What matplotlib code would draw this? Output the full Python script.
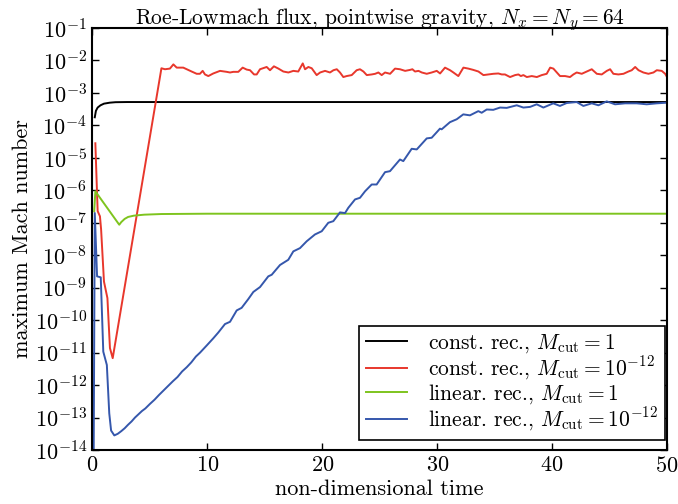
import numpy as np
import matplotlib
matplotlib.use("Agg")
import matplotlib.pyplot as plt
from matplotlib.ticker import LogFormatterMathtext, NullLocator

# data (time, log10 of max Mach number)
t_const_1 = [0.2, 0.3, 0.45, 0.7, 1.0, 1.5, 2.0, 3.0, 50.0]
m_const_1 = [-3.75, -3.55, -3.45, -3.38, -3.33, -3.30, -3.285, -3.28, -3.28]

t_const_12 = [0.25, 0.45, 0.65, 0.75, 1.0, 1.3, 1.52, 1.76, 6.0, 6.31, 6.74, 7.04,
              7.33, 7.9, 8.2, 8.63, 9.07, 9.35, 9.59, 9.79, 10.08, 10.51, 11.1, 11.68,
              11.97, 12.26, 12.69, 13.07, 13.42, 13.71, 14.06, 14.29, 14.58, 15.16,
              15.45, 15.79, 16.18, 16.61, 17.05, 17.48, 17.91, 18.3, 18.5, 18.79,
              19.08, 19.51, 19.81, 20.24, 20.67, 20.97, 21.26, 21.54, 21.83, 22.12,
              22.56, 22.99, 23.28, 23.58, 23.87, 24.3, 24.6, 24.88, 25.17, 25.46,
              25.9, 26.33, 26.76, 27.21, 27.64, 27.84, 28.07, 28.37, 28.66, 29.09,
              29.52, 29.96, 30.25, 30.68, 31.12, 31.41, 31.84, 32.28, 32.71, 33.14,
              33.59, 34.02, 34.45, 34.89, 35.32, 35.62, 35.9, 36.34, 36.78, 37.07,
              37.28, 37.5, 37.8, 38.23, 38.67, 39.1, 39.53, 39.83, 40.11, 40.41,
              40.69, 41.13, 41.56, 41.85, 42.14, 42.58, 43.02, 43.45, 43.89, 44.32,
              44.76, 45.05, 45.33, 45.77, 46.21, 46.64, 46.93, 47.23, 47.52, 47.94,
              48.38, 48.82, 49.11, 49.54, 49.84, 50.0]
m_const_12 = [-4.55, -6.64, -6.8, -7.2, -8.81, -9.32, -10.86, -11.17, -2.24, -2.27, -2.25, -2.12,
              -2.22, -2.22, -2.27, -2.34, -2.41, -2.41, -2.32, -2.43, -2.48, -2.40, -2.32, -2.35,
              -2.37, -2.35, -2.35, -2.22, -2.28, -2.30, -2.43, -2.43, -2.27, -2.20,
              -2.30, -2.18, -2.25, -2.34, -2.37, -2.32, -2.34, -2.09, -2.27, -2.20,
              -2.24, -2.45, -2.37, -2.32, -2.37, -2.30, -2.27, -2.37, -2.51, -2.48,
              -2.45, -2.30, -2.27, -2.34, -2.45, -2.43, -2.41, -2.37, -2.45, -2.37,
              -2.41, -2.25, -2.27, -2.32, -2.29, -2.27, -2.34, -2.32, -2.37, -2.41,
              -2.37, -2.32, -2.40, -2.22, -2.30, -2.37, -2.48, -2.22, -2.25, -2.29,
              -2.34, -2.45, -2.43, -2.41, -2.40, -2.43, -2.43, -2.51, -2.45, -2.43,
              -2.48, -2.45, -2.51, -2.48, -2.51, -2.45, -2.41, -2.22, -2.25, -2.37,
              -2.48, -2.48, -2.51, -2.43, -2.37, -2.41, -2.34, -2.27, -2.41, -2.43,
              -2.32, -2.27, -2.41, -2.43, -2.41, -2.34, -2.30, -2.20, -2.30, -2.37,
              -2.41, -2.37, -2.30, -2.32, -2.41, -2.51]

t_lin_1 = [0.15, 0.25, 2.33, 2.5, 2.8, 3.1, 3.6, 4.5, 6.0, 10.0, 50.0]
m_lin_1 = [-6.65, -6.03, -7.06, -6.98, -6.88, -6.82, -6.78, -6.75, -6.73, -6.72, -6.72]

t_lin_12 = [0.1, 0.2, 0.4, 0.72, 0.94, 1.25, 1.46, 1.62, 1.9, 2.2, 2.5, 2.8, 3.1, 3.4,
            3.7, 4.0, 4.3, 4.6, 5.0, 5.4, 5.8, 6.2, 6.6, 7.0, 7.4, 7.8, 8.2, 8.6, 9.0,
            9.36, 9.94, 10.51, 10.95, 11.53, 11.97, 12.55, 12.98, 13.56, 14.0, 14.58,
            15.3, 15.6, 16.32, 17.04, 17.48, 18.06, 18.64, 19.36, 19.95, 20.52, 20.96,
            21.54, 21.98, 22.26, 22.85, 23.28, 23.72, 24.3, 24.73, 25.46, 25.89, 26.76,
            27.05, 27.78, 28.22, 29.09, 29.52, 29.96, 30.24, 30.39, 31.11, 31.7, 32.27,
            32.85, 33.58, 33.87, 34.31, 34.88, 35.47, 36.05, 36.92, 37.5, 38.08, 38.66,
            39.24, 40.1, 40.68, 41.27, 42.14, 42.72, 43.45, 44.03, 44.75, 45.48, 46.35,
            47.36, 48.23, 49.1, 50.0]
m_lin_12 = [-14.5, -6.7, -8.65, -8.68, -10.97, -11.38, -12.87, -13.4, -13.55, -13.5, -13.42,
            -13.33, -13.22, -13.12, -13.0, -12.9, -12.8, -12.72, -12.58, -12.45, -12.3,
            -12.16, -12.02, -11.88, -11.75, -11.58, -11.45, -11.3, -11.12, -11.0, -10.78,
            -10.56, -10.38, -10.12, -10.05, -9.7, -9.62, -9.35, -9.13, -8.98, -8.65, -8.6,
            -8.3, -8.14, -7.88, -7.78, -7.57, -7.36, -7.26, -7.0, -6.95, -6.68, -6.7,
            -6.54, -6.28, -6.23, -6.03, -5.82, -5.82, -5.44, -5.41, -5.05, -5.1, -4.72,
            -4.74, -4.4, -4.38, -4.21, -4.1, -4.12, -3.9, -3.81, -3.66, -3.69, -3.56,
            -3.61, -3.51, -3.52, -3.45, -3.46, -3.38, -3.45, -3.43, -3.35, -3.45, -3.32,
            -3.40, -3.31, -3.28, -3.40, -3.32, -3.38, -3.26, -3.35, -3.32, -3.32, -3.35,
            -3.32, -3.3]

labels = [r"const. rec., $M_{\mathrm{cut}} = 1$",
          r"const. rec., $M_{\mathrm{cut}} = 10^{-12}$",
          r"linear. rec., $M_{\mathrm{cut}} = 1$",
          r"linear. rec., $M_{\mathrm{cut}} = 10^{-12}$"]
colors = ["black", "#e8372c", "#7ec41e", "#3557ac"]

plt.rcParams["font.family"] = "serif"
plt.rcParams["font.serif"] = ["cmr10", "DejaVu Serif"]
plt.rcParams["mathtext.fontset"] = "cm"
plt.rcParams["axes.unicode_minus"] = False
plt.rcParams["axes.formatter.use_mathtext"] = True
plt.rcParams["font.size"] = 16

fig = plt.figure(figsize=(6.78, 5.04), dpi=100)
ax = fig.add_axes([0.1364, 0.1071, 0.8474, 0.8373])

series = [(t_const_1, m_const_1), (t_const_12, m_const_12),
          (t_lin_1, m_lin_1), (t_lin_12, m_lin_12)]
for (t, m), c, lab in zip(series, colors, labels):
    ax.plot(t, 10.0 ** np.array(m), color=c, lw=1.4, label=lab)

ax.set_yscale("log")
ax.set_xlim(0, 50)
ax.set_ylim(1e-14, 1e-1)
ax.set_yticks([10.0 ** k for k in range(-14, 0)])
ax.yaxis.set_major_formatter(LogFormatterMathtext())
ax.yaxis.set_minor_locator(NullLocator())
ax.set_xticks([0, 10, 20, 30, 40, 50])
ax.tick_params(direction="in", top=True, right=True, length=5, width=1,
               labelsize=16, pad=4)
for s in ax.spines.values():
    s.set_linewidth(1.5)

ax.set_title(r"Roe-Lowmach flux, pointwise gravity, $N_x = N_y = 64$", fontsize=15.5, pad=3)
ax.set_xlabel("non-dimensional time", fontsize=16, labelpad=3)
ax.set_ylabel("maximum Mach number", fontsize=16, labelpad=2)

leg = ax.legend(loc="lower right", bbox_to_anchor=(0.9965, 0.024), borderaxespad=0,
                fancybox=False, framealpha=1, edgecolor="black", fontsize=15.5,
                handlelength=1.9, handletextpad=1.0, labelspacing=0.0,
                borderpad=0.3)
leg.get_frame().set_linewidth(1.2)

fig.savefig("out.png", dpi=100)
